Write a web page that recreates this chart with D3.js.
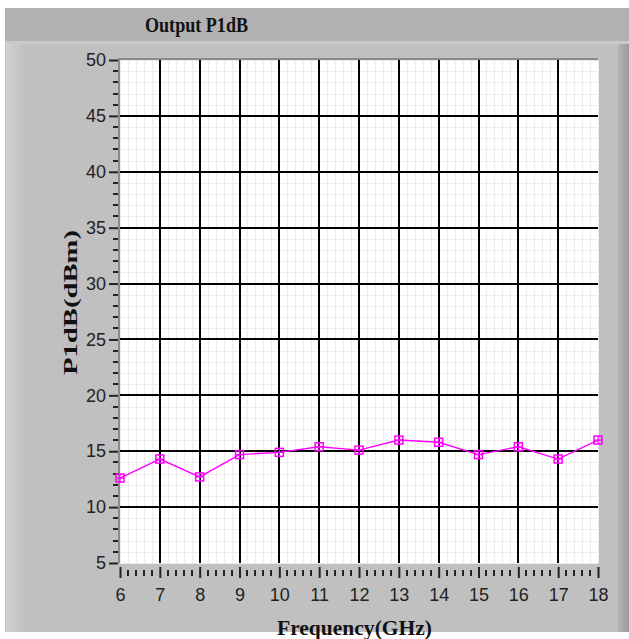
<!DOCTYPE html>
<html>
<head>
<meta charset="utf-8">
<title>Output P1dB</title>
<script src="https://d3js.org/d3.v7.min.js"></script>
<style>
  body { margin: 0; background: #fff; }
  svg { display: block; }
</style>
</head>
<body>
<svg id="chart"></svg>
<script>
// values
var freqGHz = [6, 7, 8, 9, 10, 11, 12, 13, 14, 15, 16, 17, 18];
var p1dB    = [12.6, 14.3, 12.7, 14.7, 14.9, 15.4, 15.1, 16.0, 15.8, 14.7, 15.4, 14.3, 16.0];
var xTicks  = [6, 7, 8, 9, 10, 11, 12, 13, 14, 15, 16, 17, 18];
var yTicks  = [5, 10, 15, 20, 25, 30, 35, 40, 45, 50];
var chartTitle = "Output P1dB";
var xTitle = "Frequency(GHz)";
var yTitle = "P1dB(dBm)";

var W = 629, H = 639;
var pLeft = 120, pRight = 598, pTop = 60, pBottom = 563;

var svg = d3.select('#chart').attr('width', W).attr('height', H);

// panel background
var defs = svg.append('defs');
var gl = defs.append('linearGradient').attr('id', 'leftEdge');
gl.append('stop').attr('offset', '0%').attr('stop-color', '#d2d2d2');
gl.append('stop').attr('offset', '100%').attr('stop-color', '#c0c0c0');
var gr = defs.append('linearGradient').attr('id', 'rightEdge');
gr.append('stop').attr('offset', '0%').attr('stop-color', '#b4b4b4');
gr.append('stop').attr('offset', '100%').attr('stop-color', '#9a9a9a');

svg.append('rect').attr('x', 5).attr('y', 8).attr('width', W - 5).attr('height', 33).attr('fill', '#b2b2b2');
svg.append('rect').attr('x', 5).attr('y', 41).attr('width', W - 5).attr('height', 591).attr('fill', '#c0c0c0');
svg.append('rect').attr('x', 5).attr('y', 41).attr('width', W - 5).attr('height', 3).attr('fill', '#c9c9c9');
svg.append('rect').attr('x', 6).attr('y', 44).attr('width', 20).attr('height', 588).attr('fill', 'url(#leftEdge)');
svg.append('rect').attr('x', 618).attr('y', 44).attr('width', 11).attr('height', 588).attr('fill', 'url(#rightEdge)');

svg.append('text')
  .attr('x', 145).attr('y', 32)
  .attr('textLength', 103).attr('lengthAdjust', 'spacingAndGlyphs')
  .style('font-family', 'Liberation Serif').style('font-weight', 'bold').style('font-size', '22px')
  .attr('fill', '#111')
  .text(chartTitle);

var x = d3.scaleLinear().domain([6, 18]).range([pLeft, pRight]);
var y = d3.scaleLinear().domain([5, 50]).range([pBottom, pTop]);

// plot area
svg.append('rect').attr('x', pLeft).attr('y', pTop).attr('width', pRight - pLeft).attr('height', pBottom - pTop).attr('fill', '#fff');

// minor grid
var g = svg.append('g');
g.selectAll('line.mx').data(d3.range(6, 18.001, 0.2)).enter().append('line')
  .attr('x1', function(d) { return Math.round(x(d)) + 0.5; })
  .attr('x2', function(d) { return Math.round(x(d)) + 0.5; })
  .attr('y1', pTop).attr('y2', pBottom)
  .attr('stroke', '#ececec').attr('stroke-width', 1);
g.selectAll('line.my').data(d3.range(5, 50.001, 1)).enter().append('line')
  .attr('y1', function(d) { return Math.round(y(d)) + 0.5; })
  .attr('y2', function(d) { return Math.round(y(d)) + 0.5; })
  .attr('x1', pLeft).attr('x2', pRight)
  .attr('stroke', '#ececec').attr('stroke-width', 1);

// major grid
g.selectAll('line.Mx').data(xTicks.slice(1, -1)).enter().append('line')
  .attr('x1', function(d) { return Math.round(x(d)); })
  .attr('x2', function(d) { return Math.round(x(d)); })
  .attr('y1', pTop).attr('y2', pBottom)
  .attr('stroke', '#000').attr('stroke-width', 2);
g.selectAll('line.My').data(yTicks.slice(1, -1)).enter().append('line')
  .attr('y1', function(d) { return Math.round(y(d)); })
  .attr('y2', function(d) { return Math.round(y(d)); })
  .attr('x1', pLeft).attr('x2', pRight)
  .attr('stroke', '#000').attr('stroke-width', 2);

// plot border (top + left)
svg.append('path').attr('d', 'M' + (pLeft - 1) + ',' + pBottom + 'V' + (pTop - 1) + 'H' + pRight)
  .attr('fill', 'none').attr('stroke', '#8a8a8a').attr('stroke-width', 2);

// y axis
var yAxis = d3.axisLeft(y).tickValues(yTicks).tickSize(9).tickPadding(3);
var ya = svg.append('g').attr('transform', 'translate(' + (pLeft - 2) + ',0)').call(yAxis);
ya.select('.domain').remove();
ya.selectAll('.tick line').attr('stroke', '#222').attr('stroke-width', 2);
ya.selectAll('.tick text')
  .style('font-family', 'Liberation Sans').style('font-size', '18px').attr('fill', '#222');
ya.selectAll('line.minor').data(d3.range(5, 50.001, 1).filter(function(d) { return d % 5 !== 0; }))
  .enter().append('line').attr('class', 'minor')
  .attr('x1', -5).attr('x2', 0)
  .attr('y1', function(d) { return Math.round(y(d)); })
  .attr('y2', function(d) { return Math.round(y(d)); })
  .attr('stroke', '#222').attr('stroke-width', 2);

// x axis
var xAxis = d3.axisBottom(x).tickValues(xTicks).tickSize(11).tickPadding(10);
var xa = svg.append('g').attr('transform', 'translate(0,' + (pBottom + 4) + ')').call(xAxis);
xa.select('.domain').remove();
xa.selectAll('.tick line').attr('stroke', '#222').attr('stroke-width', 2);
xa.selectAll('.tick text')
  .style('font-family', 'Liberation Sans').style('font-size', '18px').attr('fill', '#222');
xa.selectAll('line.minor').data(d3.range(6, 18.001, 0.2).filter(function(d) { return Math.abs(d - Math.round(d)) > 0.01; }))
  .enter().append('line').attr('class', 'minor')
  .attr('x1', function(d) { return Math.round(x(d)); })
  .attr('x2', function(d) { return Math.round(x(d)); })
  .attr('y1', 3).attr('y2', 9)
  .attr('stroke', '#222').attr('stroke-width', 2);

// axis titles
svg.append('text')
  .attr('x', 277).attr('y', 635)
  .attr('textLength', 155).attr('lengthAdjust', 'spacingAndGlyphs')
  .style('font-family', 'Liberation Serif').style('font-weight', 'bold').style('font-size', '22px')
  .attr('fill', '#111')
  .text(xTitle);
svg.append('text')
  .attr('transform', 'translate(77,375) rotate(-90)')
  .attr('textLength', 145).attr('lengthAdjust', 'spacingAndGlyphs')
  .style('font-family', 'Liberation Serif').style('font-weight', 'bold').style('font-size', '19px')
  .attr('fill', '#111')
  .text(yTitle);

// series
var pts = freqGHz.map(function(f, i) { return [f, p1dB[i]]; });
var line = d3.line().x(function(d) { return x(d[0]); }).y(function(d) { return y(d[1]); });
svg.append('path').datum(pts).attr('d', line)
  .attr('fill', 'none').attr('stroke', '#ff00ff').attr('stroke-width', 1.4);

var mk = svg.selectAll('g.mk').data(pts).enter().append('g').attr('class', 'mk')
  .attr('transform', function(d) { return 'translate(' + x(d[0]) + ',' + y(d[1]) + ')'; });
mk.append('rect').attr('x', -4).attr('y', -4).attr('width', 8).attr('height', 8)
  .attr('fill', 'none').attr('stroke', '#ff00ff').attr('stroke-width', 1.5);
mk.append('path').attr('d', 'M-4,0H4M0,-4V4')
  .attr('stroke', '#ff00ff').attr('stroke-width', 1.2);
</script>
</body>
</html>
